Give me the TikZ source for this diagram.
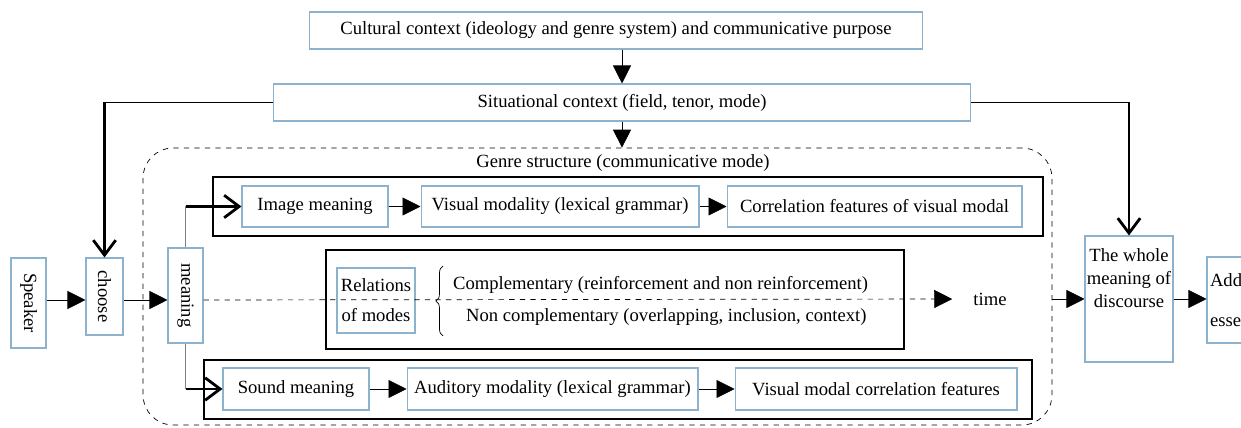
\documentclass[tikz,border=0pt]{standalone}
\usepackage{fontspec}
\setmainfont{Liberation Serif}
\usetikzlibrary{arrows.meta,positioning,calc,decorations.pathreplacing}
\definecolor{boxblue}{RGB}{140,178,206}
\tikzset{box/.style={draw=boxblue,line width=0.6pt,inner sep=2pt,align=center},
frame/.style={draw,line width=1.6pt}}
\tikzstyle{tri}  = [-{Triangle[length=0.36cm,width=0.36cm]}]
\tikzstyle{feed} = [line width=1.6pt,-{Straight Barb[length=0.3cm,width=0.45cm]}]

\begin{document}
\begin{tikzpicture}[x=0.02cm,y=-0.02cm,font=\fontsize{10.6}{13}\selectfont]
\useasboundingbox (0,0) rectangle (1241,428);
\coordinate (ax) at (622,0);
\coordinate (mid) at (0,300);

\node[box,minimum width=12.26cm,minimum height=0.74cm] (cult) at (616,30.5) {Cultural context (ideology and genre system) and communicative purpose};
\node[box,minimum width=13.96cm,minimum height=0.74cm] (situ) at (622,102.5) {Situational context (field, tenor, mode)};
\node[draw,dashed,rounded corners=0.6cm,minimum width=18.18cm,minimum height=5.54cm] (genre) at (597.5,286.5) {};
\node (genrelbl) at (623,163) {Genre structure (communicative mode)};

\node[frame,minimum width=16.6cm,minimum height=1.18cm] (imgrow) at (628,206.5) {};
\node[box,minimum width=2.92cm,minimum height=0.82cm] (imgmean) at (315,206.5) {Image meaning};
\node[box,minimum width=5.56cm,minimum height=0.82cm] (vismod) at (560,206.5) {Visual modality (lexical grammar)};
\node[box,minimum width=5.9cm,minimum height=0.82cm] (viscor) at (874.5,206.5) {Correlation features of visual modal};

\node[frame,minimum width=11.56cm,minimum height=1.98cm] (relrow) at (615,299.5) {};
\node[box,minimum width=1.56cm,minimum height=1.3cm] (relbox) at (376,300.5) {Relations\\[4pt]of modes};
\node[anchor=west] (comp) at (447,285) {Complementary (reinforcement and non reinforcement)};
\node[anchor=west] (noncomp) at (460,317) {Non complementary (overlapping, inclusion, context)};
\coordinate (bt) at (443,266);
\coordinate (bb) at (443,336);
\draw[decorate,decoration={brace,amplitude=4pt}] (bb) -- (bt);

\node[frame,minimum width=16.56cm,minimum height=1.18cm] (sndrow) at (618,389.5) {};
\node[box,minimum width=2.92cm,minimum height=0.84cm] (sndmean) at (296,389) {Sound meaning};
\node[box,minimum width=5.82cm,minimum height=0.84cm] (audmod) at (552.5,389) {Auditory modality (lexical grammar)};
\node[box,minimum width=5.64cm,minimum height=0.84cm] (sndcor) at (876,389) {Visual modal correlation features};

\node[box,minimum width=0.7cm,minimum height=1.8cm] (speaker) at (28.5,303) {\rotatebox{-90}{Speaker}};
\node[box,minimum width=0.74cm,minimum height=1.54cm] (choose) at (104.5,296.5) {\rotatebox{-90}{choose}};
\node[box,minimum width=0.7cm,minimum height=1.9cm] (meaning) at (185.5,295.5) {\rotatebox{-90}{meaning}};
\node (time) at (990,299) {time};
\node[box,minimum width=1.76cm,minimum height=2.52cm] (whole) at (1129,299) {};
\node[align=center] (wholetxt) at (1129,278) {The whole\\meaning of\\discourse};
\node[box,minimum width=1.72cm,minimum height=1.72cm,text width=1.6cm,align=left,inner sep=1pt] (addr) at (1250,300) {Addr\\[10pt]essee};

\draw[tri] (cult.south -| ax) -- (situ.north -| ax);
\draw[tri] (situ.south -| ax) -- (genre.north -| ax);
\draw (situ.west) -- (situ.west -| choose.north);
\draw[feed] (situ.west -| choose.north) -- (choose.north);
\draw (situ.east) -- (situ.east -| whole.north);
\draw[feed] (situ.east -| whole.north) -- (whole.north);
\draw[tri] (speaker.east |- mid) -- (choose.west |- mid);
\draw[tri] (choose.east |- mid) -- (meaning.west |- mid);
\draw[dashed,tri,shorten >=0.3cm] (meaning.east |- mid) -- (time.west);
\draw[tri] (genre.east |- whole.west) -- (whole.west);
\draw[tri] (whole.east) -- (addr.west |- whole.east);
\draw[tri] (imgmean) -- (vismod);
\draw[tri] (vismod) -- (viscor);
\draw[tri] (sndmean) -- (audmod);
\draw[tri] (audmod) -- (sndcor);
\draw[gray] (meaning.north) -- (meaning.north |- imgmean.west);
\draw[feed] (meaning.north |- imgmean.west) -- (imgmean.west);
\draw[gray] (meaning.south) -- (meaning.south |- sndmean.west);
\draw[feed] (meaning.south |- sndmean.west) -- (sndmean.west);
\end{tikzpicture}
\end{document}
